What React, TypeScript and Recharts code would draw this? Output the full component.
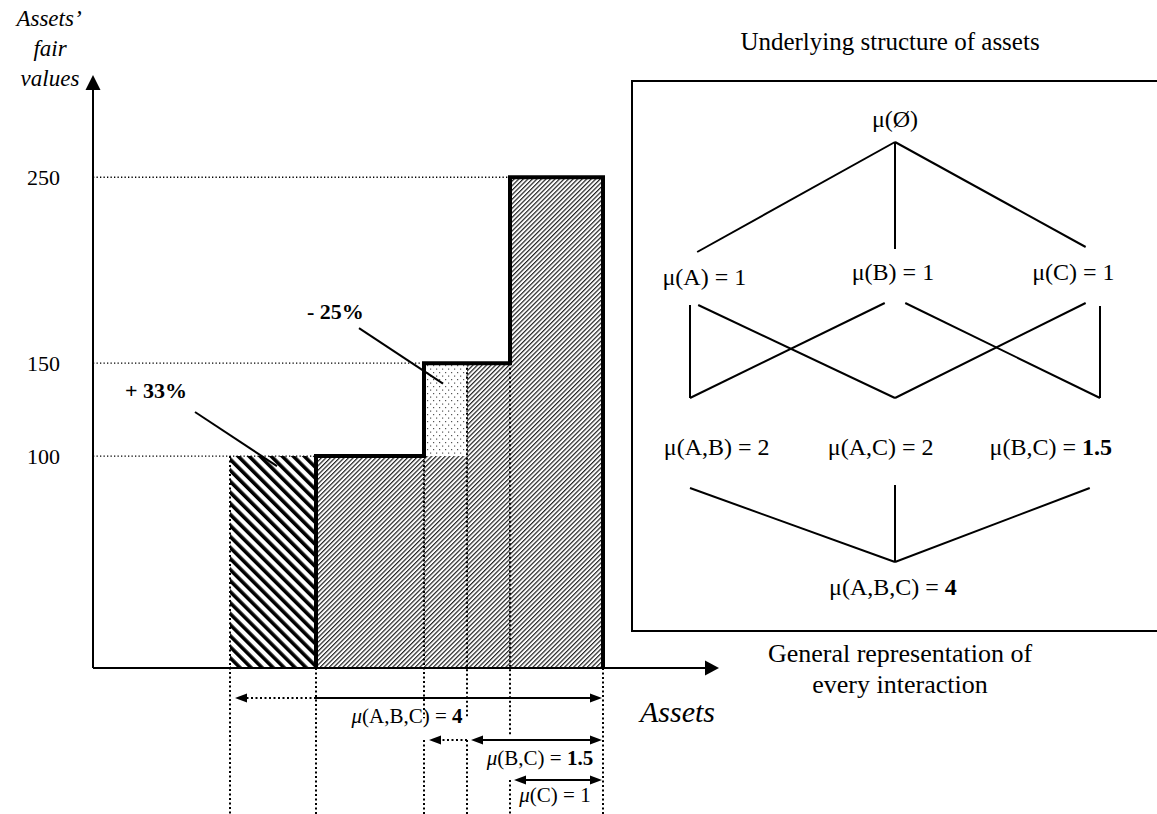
import {
  ComposedChart,
  Line,
  ReferenceArea,
  ReferenceDot,
  ReferenceLine,
  Scatter,
  XAxis,
  YAxis,
} from 'recharts';

const FONT = '"Liberation Serif", "Times New Roman", serif';

// value axis
const Y_TICKS = [100, 150, 250];
const Y_MIN = -14; // where the horizontal axis sits
const Y_MAX = 305;
const X_MAX = 626;
const Y_BOTTOM = -92.5; // bottom edge of the page, in value units

// boundaries of the asset blocks along the horizontal axis
const EDGES = [137, 223, 331, 374, 417, 510];

// fair-value blocks (kind decides the hatch)
const BLOCKS = [
  { from: 0, to: 1, low: Y_MIN, high: 100, kind: 'gain' },
  { from: 1, to: 3, low: Y_MIN, high: 100, kind: 'base' },
  { from: 2, to: 3, low: 100, high: 150, kind: 'loss' },
  { from: 3, to: 4, low: Y_MIN, high: 150, kind: 'base' },
  { from: 4, to: 5, low: Y_MIN, high: 250, kind: 'base' },
];

// thick step outline of the portfolio
const OUTLINE = [
  { x: 223, y: Y_MIN },
  { x: 223, y: 100 },
  { x: 331, y: 100 },
  { x: 331, y: 150 },
  { x: 417, y: 150 },
  { x: 417, y: 250 },
  { x: 510, y: 250 },
  { x: 510, y: Y_MIN },
];

// dotted level guides: value and the edge they stop at
const LEVEL_GUIDES = [
  { y: 250, to: 4 },
  { y: 150, to: 2 },
  { y: 100, to: 1 },
];

// dotted vertical guides: edge index, top and bottom value
const EDGE_GUIDES = [
  { edge: 0, top: 100, bottom: Y_BOTTOM },
  { edge: 1, top: Y_MIN, bottom: Y_BOTTOM },
  { edge: 2, top: 100, bottom: -41 },
  { edge: 2, top: -52.7, bottom: Y_BOTTOM },
  { edge: 3, top: 150, bottom: -41 },
  { edge: 3, top: -52.7, bottom: Y_BOTTOM },
  { edge: 4, top: 150, bottom: -50 },
  { edge: 4, top: -74.2, bottom: Y_BOTTOM },
  { edge: 5, top: Y_MIN, bottom: Y_BOTTOM },
];

// percentage call-outs
const CALLOUTS = [
  { text: '+ 33%', tx: 32, ty: 131, x1: 102, y1: 123.7, x2: 184, y2: 94.6 },
  { text: '- 25%', tx: 214, ty: 174, x1: 266, y1: 168.8, x2: 350, y2: 139 },
];

// interaction spans under the axis
const SPANS = [
  { set: 'A,B,C', value: '4', bold: true, from: 1, to: 5, dottedTo: 0, row: -30.1, labelX: 314, labelY: -43.5, startHead: false },
  { set: 'B,C', value: '1.5', bold: true, from: 3, to: 5, dottedTo: 2, row: -52.7, labelX: 447, labelY: -66, startHead: true },
  { set: 'C', value: '1', bold: false, from: 4, to: 5, dottedTo: null, row: -74.2, labelX: 462, labelY: -86, startHead: true },
];

// lattice of interactions (columns 0..2, layout rows downward)
const LATTICE_NODES = [
  { set: 'Ø', value: '', x: 1, y: 45, bold: false },
  { set: 'A', value: '1', x: 0.07, y: 203, bold: false },
  { set: 'B', value: '1', x: 0.99, y: 198, bold: false },
  { set: 'C', value: '1', x: 1.87, y: 198, bold: false },
  { set: 'A,B', value: '2', x: 0.13, y: 373, bold: false },
  { set: 'A,C', value: '2', x: 0.93, y: 373, bold: false },
  { set: 'B,C', value: '1.5', x: 1.76, y: 373, bold: true },
  { set: 'A,B,C', value: '4', x: 0.99, y: 513, bold: true },
];

const LATTICE_EDGES = [
  [1, 60, 0.035, 170],
  [1, 60, 1, 167],
  [1, 60, 1.93, 165],
  [0, 223, 0, 316],
  [0.04, 223, 1, 316],
  [0.95, 221, 0, 316],
  [1.05, 221, 2, 316],
  [1.93, 221, 1, 316],
  [2, 224, 2, 316],
  [0, 406, 1, 480],
  [1, 403, 1, 480],
  [1.95, 406, 1, 480],
];

const FILLS: Record<string, string> = {
  gain: 'url(#boldHatch)',
  base: 'url(#fineHatch)',
  loss: 'url(#dots)',
};

type ArrowOpts = {
  start?: boolean;
  end?: boolean;
  dotted?: boolean;
  inset1?: number;
  inset2?: number;
  width?: number;
  len?: number;
  half?: number;
};

const arrowShape = (o: ArrowOpts) => (p: any) => {
  const { x1, y1, x2, y2 } = p;
  const dx = x2 - x1;
  const dy = y2 - y1;
  const L = Math.hypot(dx, dy) || 1;
  const ux = dx / L;
  const uy = dy / L;
  const sx = x1 + ux * (o.inset1 ?? 0);
  const sy = y1 + uy * (o.inset1 ?? 0);
  const ex = x2 - ux * (o.inset2 ?? 0);
  const ey = y2 - uy * (o.inset2 ?? 0);
  const len = o.len ?? 12;
  const half = o.half ?? 4.5;
  const head = (tx: number, ty: number, vx: number, vy: number) => {
    const bx = tx - vx * len;
    const by = ty - vy * len;
    return `${tx},${ty} ${bx - vy * half},${by + vx * half} ${bx + vy * half},${by - vx * half}`;
  };
  const lx1 = o.start ? sx + ux * len * 0.8 : sx;
  const ly1 = o.start ? sy + uy * len * 0.8 : sy;
  const lx2 = o.end ? ex - ux * len * 0.8 : ex;
  const ly2 = o.end ? ey - uy * len * 0.8 : ey;
  return (
    <g>
      <line
        x1={lx1}
        y1={ly1}
        x2={lx2}
        y2={ly2}
        stroke="#000"
        strokeWidth={o.width ?? 2}
        strokeDasharray={o.dotted ? '2 2.5' : undefined}
      />
      {o.start && <polygon points={head(sx, sy, -ux, -uy)} fill="#000" />}
      {o.end && <polygon points={head(ex, ey, ux, uy)} fill="#000" />}
    </g>
  );
};

function MuText({
  x,
  y,
  set,
  value,
  bold,
  italicMu,
  size,
}: {
  x: number;
  y: number;
  set: string;
  value: string;
  bold: boolean;
  italicMu: boolean;
  size: number;
}) {
  return (
    <text x={x} y={y} textAnchor="middle" fontFamily={FONT} fontSize={size} fill="#000">
      <tspan fontStyle={italicMu ? 'italic' : 'normal'}>μ</tspan>
      <tspan>{value ? `(${set}) = ` : `(${set})`}</tspan>
      {value && <tspan fontWeight={bold ? 'bold' : 'normal'}>{value}</tspan>}
    </text>
  );
}

function MainChart() {
  return (
    <ComposedChart width={1157} height={814} margin={{ top: 75, right: 1157 - 93 - X_MAX, bottom: 146, left: 33 }}>
      <defs>
        <pattern id="fineHatch" patternUnits="userSpaceOnUse" width="3.2" height="3.2" patternTransform="rotate(45)">
          <rect width="3.2" height="3.2" fill="#fff" />
          <rect width="1.2" height="3.2" fill="#222" />
        </pattern>
        <pattern id="boldHatch" patternUnits="userSpaceOnUse" width="7.8" height="7.8" patternTransform="rotate(-45)">
          <rect width="7.8" height="7.8" fill="#fff" />
          <rect width="3.6" height="7.8" fill="#000" />
        </pattern>
        <pattern id="dots" patternUnits="userSpaceOnUse" width="6" height="7">
          <rect width="6" height="7" fill="#fff" />
          <rect x="1" y="1" width="1.2" height="1.2" fill="#555" />
          <rect x="4" y="4.5" width="1.2" height="1.2" fill="#555" />
        </pattern>
      </defs>
      <XAxis type="number" dataKey="x" domain={[0, X_MAX]} allowDataOverflow hide />
      <YAxis
        type="number"
        dataKey="y"
        domain={[Y_MIN, Y_MAX]}
        allowDataOverflow
        ticks={Y_TICKS}
        axisLine={false}
        tickLine={false}
        tickSize={0}
        tickMargin={33}
        width={60}
        tick={{ fill: '#000', fontSize: 22, fontFamily: FONT }}
      />
      {BLOCKS.map((b, i) => (
        <ReferenceArea
          key={`b${i}`}
          x1={EDGES[b.from]}
          x2={EDGES[b.to]}
          y1={b.low}
          y2={b.high}
          fill={FILLS[b.kind]}
          fillOpacity={1}
          stroke="none"
          ifOverflow="visible"
        />
      ))}
      {LEVEL_GUIDES.map((g) => (
        <ReferenceLine
          key={`l${g.y}`}
          segment={[
            { x: 0, y: g.y },
            { x: EDGES[g.to], y: g.y },
          ]}
          stroke="#000"
          strokeWidth={1.3}
          strokeDasharray="1.3 2.2"
          ifOverflow="visible"
        />
      ))}
      {EDGE_GUIDES.map((g, i) => (
        <ReferenceLine
          key={`e${i}`}
          segment={[
            { x: EDGES[g.edge], y: g.top },
            { x: EDGES[g.edge], y: g.bottom },
          ]}
          stroke="#000"
          strokeWidth={2}
          strokeDasharray="2 2.5"
          ifOverflow="visible"
        />
      ))}
      <Line
        data={OUTLINE}
        dataKey="y"
        type="linear"
        stroke="#000"
        strokeWidth={4}
        strokeLinejoin="miter"
        dot={false}
        activeDot={false}
        isAnimationActive={false}
      />
      {/* axes with arrow heads */}
      <ReferenceLine
        segment={[
          { x: 0, y: Y_MIN },
          { x: 0, y: Y_MAX },
        ]}
        ifOverflow="visible"
        shape={arrowShape({ end: true, len: 15, half: 7.5, width: 2 })}
      />
      <ReferenceLine
        segment={[
          { x: 0, y: Y_MIN },
          { x: X_MAX, y: Y_MIN },
        ]}
        ifOverflow="visible"
        shape={arrowShape({ end: true, len: 14, half: 7.5, width: 2 })}
      />
      {CALLOUTS.map((c) => (
        <ReferenceLine
          key={`c${c.text}`}
          segment={[
            { x: c.x1, y: c.y1 },
            { x: c.x2, y: c.y2 },
          ]}
          stroke="#000"
          strokeWidth={2}
          ifOverflow="visible"
        />
      ))}
      {CALLOUTS.map((c) => (
        <ReferenceDot
          key={`t${c.text}`}
          x={c.tx}
          y={c.ty}
          r={0}
          ifOverflow="visible"
          shape={(p: any) => (
            <text x={p.cx} y={p.cy} fontFamily={FONT} fontSize={22} fontWeight="bold" fill="#000">
              {c.text}
            </text>
          )}
        />
      ))}
      {SPANS.map((s) => (
        <ReferenceLine
          key={`s${s.set}`}
          segment={[
            { x: EDGES[s.from], y: s.row },
            { x: EDGES[s.to], y: s.row },
          ]}
          ifOverflow="visible"
          shape={arrowShape({ start: s.startHead, end: true, inset1: s.startHead ? 4 : 0, inset2: 1 })}
        />
      ))}
      {SPANS.filter((s) => s.dottedTo !== null).map((s) => (
        <ReferenceLine
          key={`d${s.set}`}
          segment={[
            { x: EDGES[s.from], y: s.row },
            { x: EDGES[s.dottedTo as number], y: s.row },
          ]}
          ifOverflow="visible"
          shape={arrowShape({ end: true, dotted: true, inset2: 5 })}
        />
      ))}
      {SPANS.map((s) => (
        <ReferenceDot
          key={`m${s.set}`}
          x={s.labelX}
          y={s.labelY}
          r={0}
          ifOverflow="visible"
          shape={(p: any) => (
            <MuText x={p.cx} y={p.cy} set={s.set} value={s.value} bold={s.bold} italicMu size={21} />
          )}
        />
      ))}
    </ComposedChart>
  );
}

function LatticeChart() {
  return (
    <ComposedChart width={524} height={548} margin={{ top: 0, right: 0, bottom: 0, left: 0 }}>
      <XAxis type="number" dataKey="x" domain={[-0.278, 2.278]} allowDataOverflow hide />
      <YAxis type="number" dataKey="y" domain={[0, 548]} reversed allowDataOverflow hide />
      {LATTICE_EDGES.map((e, i) => (
        <ReferenceLine
          key={`le${i}`}
          segment={[
            { x: e[0], y: e[1] },
            { x: e[2], y: e[3] },
          ]}
          stroke="#000"
          strokeWidth={2}
          ifOverflow="visible"
        />
      ))}
      <Scatter
        data={LATTICE_NODES}
        dataKey="y"
        isAnimationActive={false}
        shape={(p: any) => (
          <MuText
            x={p.cx}
            y={p.cy}
            set={p.payload.set}
            value={p.payload.value}
            bold={p.payload.bold}
            italicMu={false}
            size={24}
          />
        )}
      />
    </ComposedChart>
  );
}

export default function App() {
  return (
    <div style={{ position: 'relative', width: 1157, height: 814, overflow: 'hidden', background: '#fff', fontFamily: FONT }}>
      <style>{'body{margin:0}'}</style>
      <div style={{ position: 'absolute', left: 0, top: 0 }}>
        <MainChart />
      </div>
      <div
        style={{
          position: 'absolute',
          left: 631,
          top: 80,
          width: 560,
          height: 552,
          boxSizing: 'border-box',
          borderTop: '2px solid #000',
          borderLeft: '2px solid #000',
          borderBottom: '2px solid #000',
        }}
      >
        <LatticeChart />
      </div>
      <svg
        width={1157}
        height={814}
        style={{ position: 'absolute', left: 0, top: 0, pointerEvents: 'none' }}
        fontFamily={FONT}
      >
        <g fontStyle="italic" fontSize={23} textAnchor="middle">
          <text x={49} y={26}>Assets’</text>
          <text x={50} y={56}>fair</text>
          <text x={50} y={86}>values</text>
        </g>
        <text x={640} y={722} fontStyle="italic" fontSize={30}>
          Assets
        </text>
        <text x={890} y={50} fontSize={25} textAnchor="middle">
          Underlying structure of assets
        </text>
        <g fontSize={26} textAnchor="middle">
          <text x={900} y={662}>General representation of</text>
          <text x={900} y={693}>every interaction</text>
        </g>
      </svg>
    </div>
  );
}
